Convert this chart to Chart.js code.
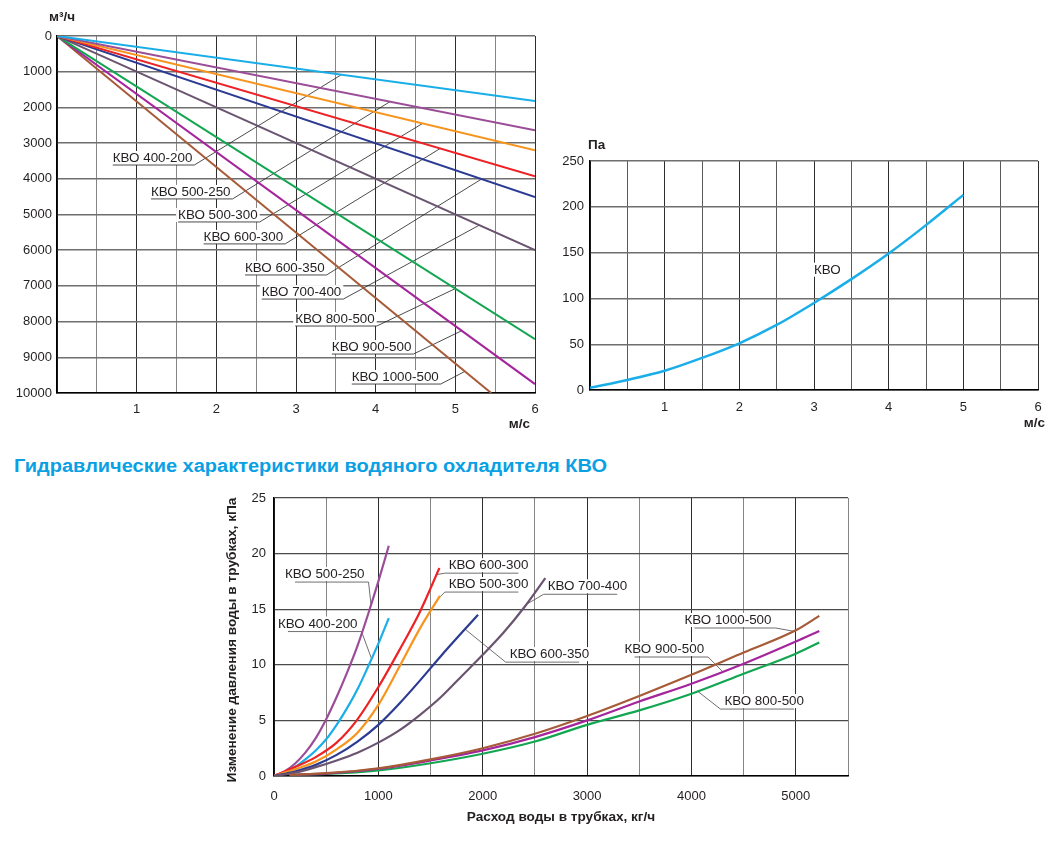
<!DOCTYPE html>
<html><head><meta charset="utf-8">
<script src="https://cdn.jsdelivr.net/npm/chart.js@4.4.1/dist/chart.umd.min.js"></script>
<style>
html,body{margin:0;padding:0;background:#fff;width:1062px;height:842px;overflow:hidden;}
.box{position:absolute;}
#title{position:absolute;left:14px;top:456px;line-height:20px;font:bold 18px "Liberation Sans",Arial,sans-serif;color:#0aa0e4;white-space:nowrap;transform:scaleX(1.11);transform-origin:0 50%;}
</style></head><body>
<div class="box" style="left:0;top:0;width:545px;height:440px"><canvas id="c1"></canvas></div>
<div class="box" style="left:540px;top:120px;width:522px;height:320px"><canvas id="c2"></canvas></div>
<div id="title">Гидравлические характеристики водяного охладителя КВО</div>
<div class="box" style="left:200px;top:480px;width:662px;height:362px"><canvas id="c3"></canvas></div>
<script>
// ===== DATA =====
const seriesNames = ['КВО 400-200','КВО 500-250','КВО 500-300','КВО 600-300','КВО 600-350','КВО 700-400','КВО 800-500','КВО 900-500','КВО 1000-500'];
const seriesColors = ['#1aaee8','#9b4e97','#f7941d','#ed2224','#2b3a92','#6a5470','#13a651','#a4259c','#a65b38'];

// Chart 1: air velocity (м/с) vs air flow (м³/ч)
const speedTickLabels = ['1','2','3','4','5','6'];
const flowSpeed = [0, 6];
const flowSpeed1000 = [0, 5.45];
const flow400_200 = [0, 1820];
const flow500_250 = [0, 2640];
const flow500_300 = [0, 3200];
const flow600_300 = [0, 3930];
const flow600_350 = [0, 4510];
const flow700_400 = [0, 6000];
const flow800_500 = [0, 8490];
const flow900_500 = [0, 9750];
const flow1000_500 = [0, 10000];

// Chart 2: air pressure drop (Па) vs velocity (м/с)
const paSpeed = [0, 0.5, 1, 1.5, 2, 2.5, 3, 3.5, 4, 4.5, 5];
const paDrop  = [2.5, 11, 21, 35, 51, 71, 95, 121, 149, 180, 213];

// Chart 3: water pressure drop (кПа) vs water flow (кг/ч)
const q400_200 = [0,100,200,300,400,500,600,700,800,900,1000,1100];
const dp400_200 = [0,0.3,0.8,1.5,2.3,3.3,4.6,6.1,7.8,9.8,11.9,14.2];
const q500_250 = [0,100,200,300,400,500,600,700,800,900,1000,1100];
const dp500_250 = [0,0.4,1.1,2.1,3.4,5.1,7.1,9.3,11.7,14.5,17.5,20.7];
const q500_300 = [0,200,400,600,800,1000,1200,1400,1590];
const dp500_300 = [0,0.6,1.3,2.4,3.9,6.4,9.8,13.3,16.2];
const q600_300 = [0,200,400,600,800,1000,1200,1400,1585];
const dp600_300 = [0,0.8,1.7,3.0,5.1,8.0,11.3,14.8,18.7];
const q600_350 = [0,200,400,600,800,1000,1200,1400,1600,1800,1955];
const dp600_350 = [0,0.4,1.0,1.9,3.1,4.6,6.5,8.6,10.8,12.9,14.5];
const q700_400 = [0,200,400,600,800,1000,1200,1400,1600,1800,2000,2200,2400,2600];
const dp700_400 = [0,0.3,0.8,1.4,2.1,3.0,4.1,5.5,7.1,9.0,10.9,12.9,15.2,17.8];
const q800_500 = [150,500,1000,1500,2000,2500,3000,3500,4000,4500,5000,5225];
const dp800_500 = [0.1,0.18,0.5,1.15,2.0,3.1,4.6,5.9,7.4,9.2,11.0,12.0];
const q900_500 = [150,500,1000,1500,2000,2500,3000,3500,4000,4500,5000,5225];
const dp900_500 = [0.1,0.22,0.65,1.4,2.3,3.5,5.0,6.7,8.3,10.1,12.1,13.05];
const q1000_500 = [150,500,1000,1500,2000,2500,3000,3500,4000,4500,5000,5225];
const dp1000_500 = [0.1,0.25,0.7,1.5,2.5,3.8,5.4,7.2,9.1,11.1,13.1,14.4];

// ===== HELPERS =====
const FONT = '"Liberation Sans", Arial, Helvetica, sans-serif';
Chart.defaults.font.family = FONT;
Chart.defaults.font.size = 13;
Chart.defaults.color = '#231f20';
Chart.defaults.animation = false;

function pairs(xs, ys){ return xs.map((x,i)=>({x:x, y:ys[i]})); }
function interp(data, x){
  for (let i=1;i<data.length;i++){
    if (x <= data[i].x){ const a=data[i-1], b=data[i]; const t=(x-a.x)/(b.x-a.x); return a.y+t*(b.y-a.y); }
  }
  return data[data.length-1].y;
}
function ds(name, xs, ys, width, smooth){
  const i = seriesNames.indexOf(name);
  return { label:name, data:pairs(xs,ys), borderColor: i>=0?seriesColors[i]:'#1aaee8', borderWidth:width,
    pointRadius:0, fill:false, cubicInterpolationMode: smooth?'monotone':'default', tension:0 };
}
function calloutPlugin(labels, cfg){
  return { id:'callouts', beforeDatasetsDraw(chart){
    const ctx=chart.ctx, xs=chart.scales.x, ys=chart.scales.y;
    ctx.save();
    ctx.font='13.4px '+FONT; ctx.textBaseline='alphabetic'; ctx.textAlign='left';
    labels.forEach(l=>{
      const tx=xs.getPixelForValue(l.x), ty=ys.getPixelForValue(l.y);
      const w=ctx.measureText(l.text).width;
      ctx.fillStyle='#fff'; ctx.fillRect(tx-2, ty-11, w+4, 14);
      ctx.fillStyle='#231f20'; ctx.fillText(l.text, tx, ty);
      if (!l.dir) return;
      const uy=ty+cfg.under;
      const x0=tx+(l.dir==='left'?-cfg.out:cfg.inset);
      const x1=tx+w+(l.dir==='right'?cfg.out:-cfg.inset);
      const d=chart.data.datasets.find(s=>s.label===l.series);
      const cy=interp(d.data, l.cx);
      const px=xs.getPixelForValue(l.cx), py=ys.getPixelForValue(cy);
      const sx=l.dir==='right'?x1:x0;
      ctx.strokeStyle=cfg.color; ctx.lineWidth=cfg.width;
      ctx.beginPath(); ctx.moveTo(x0,uy); ctx.lineTo(x1,uy); ctx.moveTo(sx,uy); ctx.lineTo(px,py); ctx.stroke();
    });
    ctx.restore();
  }};
}
function titlesPlugin(items){
  return { id:'titles', afterDraw(chart){
    const ctx=chart.ctx, a=chart.chartArea;
    ctx.save(); ctx.fillStyle='#231f20'; ctx.textBaseline='middle';
    items.forEach(t=>{
      ctx.font=t.font; ctx.textAlign=t.align;
      if (t.rot){
        ctx.save(); ctx.translate(a.left+t.dx,(a.top+a.bottom)/2+t.dy); ctx.rotate(-Math.PI/2);
        ctx.fillText(t.text,0,0); ctx.restore();
      } else {
        const bx = t.hRef==='right'?a.right:(t.hRef==='center'?(a.left+a.right)/2:a.left);
        const by = t.vRef==='bottom'?a.bottom:a.top;
        ctx.fillText(t.text, bx+t.dx, by+t.dy);
      }
    });
    ctx.restore();
  }};
}
const darkGrid='#2e2e2e', lightGrid='#858585', hGrid='#6f6f6f';

// ===== CHART 1 =====
const labels1 = [
  {text:'КВО 400-200', x:0.70, y:3530, dir:'right', series:'КВО 400-200', cx:3.57},
  {text:'КВО 500-250', x:1.18, y:4480, dir:'right', series:'КВО 500-250', cx:4.18},
  {text:'КВО 500-300', x:1.52, y:5125, dir:'right', series:'КВО 500-300', cx:4.59},
  {text:'КВО 600-300', x:1.84, y:5740, dir:'right', series:'КВО 600-300', cx:4.81},
  {text:'КВО 600-350', x:2.36, y:6610, dir:'right', series:'КВО 600-350', cx:5.33},
  {text:'КВО 700-400', x:2.57, y:7285, dir:'right', series:'КВО 700-400', cx:5.3},
  {text:'КВО 800-500', x:2.99, y:8040, dir:'right', series:'КВО 800-500', cx:5.0},
  {text:'КВО 900-500', x:3.45, y:8825, dir:'right', series:'КВО 900-500', cx:5.08},
  {text:'КВО 1000-500', x:3.70, y:9665, dir:'right', series:'КВО 1000-500', cx:5.12}
];
new Chart(document.getElementById('c1'), {
  type:'line',
  data:{ datasets:[
    ds('КВО 400-200', flowSpeed, flow400_200, 2),
    ds('КВО 500-250', flowSpeed, flow500_250, 2),
    ds('КВО 500-300', flowSpeed, flow500_300, 2),
    ds('КВО 600-300', flowSpeed, flow600_300, 2),
    ds('КВО 600-350', flowSpeed, flow600_350, 2),
    ds('КВО 700-400', flowSpeed, flow700_400, 2),
    ds('КВО 800-500', flowSpeed, flow800_500, 2),
    ds('КВО 900-500', flowSpeed, flow900_500, 2),
    ds('КВО 1000-500', flowSpeed1000, flow1000_500, 2)
  ]},
  options:{
    responsive:true, maintainAspectRatio:false,
    layout:{padding:{top:36,right:10,left:0,bottom:0}},
    plugins:{legend:{display:false}, tooltip:{enabled:false}},
    scales:{
      x:{type:'linear', min:0, max:6,
        ticks:{stepSize:0.5, padding:9, autoSkip:false, maxRotation:0,
          callback:v=>(v>0 && Number.isInteger(v))?speedTickLabels[v-1]:''},
        grid:{drawTicks:false, lineWidth:1, color:c=>Number.isInteger(c.tick.value)?darkGrid:lightGrid},
        border:{color:'#000', width:1.5},
        afterFit:s=>{s.height=47; s.paddingRight=0; s.paddingLeft=0;}},
      y:{type:'linear', reverse:true, min:0, max:10000,
        ticks:{stepSize:1000, padding:5, callback:v=>String(v)},
        grid:{drawTicks:false, lineWidth:1.5, color:hGrid},
        border:{color:'#000', width:1.5},
        afterFit:s=>{s.width=57;}}
    }
  },
  plugins:[calloutPlugin(labels1,{under:3,inset:0,out:2,color:'#1e1e1e',width:0.8}),
    titlesPlugin([
      {text:'м³/ч', font:'bold 13.5px '+FONT, align:'left', dx:-8, dy:-19},
      {text:'м/с', font:'bold 13.5px '+FONT, align:'right', hRef:'right', vRef:'bottom', dx:-5, dy:31}
    ])]
});

// ===== CHART 2 =====
new Chart(document.getElementById('c2'), {
  type:'line',
  data:{ datasets:[ ds('КВО', paSpeed, paDrop, 2.5, true) ]},
  options:{
    responsive:true, maintainAspectRatio:false,
    layout:{padding:{top:41,right:24,left:0,bottom:0}},
    plugins:{legend:{display:false}, tooltip:{enabled:false}},
    scales:{
      x:{type:'linear', min:0, max:6,
        ticks:{stepSize:0.5, padding:10, autoSkip:false, maxRotation:0,
          callback:v=>(v>0 && Number.isInteger(v))?speedTickLabels[v-1]:''},
        grid:{drawTicks:false, lineWidth:1, color:c=>Number.isInteger(c.tick.value)?darkGrid:'#5a5a5a'},
        border:{color:'#000', width:1.5},
        afterFit:s=>{s.height=50;}},
      y:{type:'linear', min:0, max:250,
        ticks:{stepSize:50, padding:6, callback:v=>String(v)},
        grid:{drawTicks:false, lineWidth:1.4, color:hGrid},
        border:{color:'#000', width:1.5},
        afterFit:s=>{s.width=50;}}
    }
  },
  plugins:[calloutPlugin([{text:'КВО', x:3.0, y:127}],{under:3,inset:0,out:2,color:'#222',width:0.8}),
    titlesPlugin([
      {text:'Па', font:'bold 13.5px '+FONT, align:'left', dx:-2, dy:-16},
      {text:'м/с', font:'bold 13.5px '+FONT, align:'right', hRef:'right', vRef:'bottom', dx:7, dy:33}
    ])]
});

// ===== CHART 3 =====
const labels3 = [
  {text:'КВО 500-250', x:105, y:17.8, dir:'right', series:'КВО 500-250', cx:930},
  {text:'КВО 400-200', x:38, y:13.35, dir:'right', series:'КВО 400-200', cx:935},
  {text:'КВО 600-300', x:1675, y:18.6, dir:'left', series:'КВО 600-300', cx:1557},
  {text:'КВО 500-300', x:1675, y:16.9, dir:'left', series:'КВО 500-300', cx:1572},
  {text:'КВО 700-400', x:2622, y:16.7, dir:'left', series:'КВО 700-400', cx:2418},
  {text:'КВО 600-350', x:2258, y:10.6, dir:'left', series:'КВО 600-350', cx:1830},
  {text:'КВО 1000-500', x:3933, y:13.67, dir:'right', series:'КВО 1000-500', cx:4979},
  {text:'КВО 900-500', x:3359, y:11.06, dir:'right', series:'КВО 900-500', cx:4300},
  {text:'КВО 800-500', x:4316, y:6.38, dir:'left', series:'КВО 800-500', cx:4060}
];
new Chart(document.getElementById('c3'), {
  type:'line',
  data:{ datasets:[
    ds('КВО 1000-500', q1000_500, dp1000_500, 2.2, true),
    ds('КВО 900-500', q900_500, dp900_500, 2.2, true),
    ds('КВО 800-500', q800_500, dp800_500, 2.2, true),
    ds('КВО 700-400', q700_400, dp700_400, 2.2, true),
    ds('КВО 600-350', q600_350, dp600_350, 2.2, true),
    ds('КВО 500-300', q500_300, dp500_300, 2.2, true),
    ds('КВО 600-300', q600_300, dp600_300, 2.2, true),
    ds('КВО 400-200', q400_200, dp400_200, 2.2, true),
    ds('КВО 500-250', q500_250, dp500_250, 2.2, true)
  ]},
  options:{
    responsive:true, maintainAspectRatio:false,
    layout:{padding:{top:18,right:14,left:0,bottom:0}},
    plugins:{legend:{display:false}, tooltip:{enabled:false}},
    scales:{
      x:{type:'linear', min:0, max:5500,
        ticks:{stepSize:500, padding:13, autoSkip:false, maxRotation:0,
          callback:v=>(v%1000===0 && v<=5000)?String(v):''},
        grid:{drawTicks:false, lineWidth:1, color:c=>(c.tick.value%1000===0)?darkGrid:lightGrid},
        border:{color:'#000', width:1.5},
        afterFit:s=>{s.height=66;}},
      y:{type:'linear', min:0, max:25,
        ticks:{stepSize:5, padding:8, callback:v=>String(v)},
        grid:{drawTicks:false, lineWidth:1.3, color:'#4a4a4a'},
        border:{color:'#000', width:1.5},
        afterFit:s=>{s.width=74;}}
    }
  },
  plugins:[calloutPlugin(labels3,{under:4,inset:10,out:4,color:'#4a4a4a',width:0.8}),
    titlesPlugin([
      {text:'Изменение давления воды в трубках, кПа', font:'bold 13.7px '+FONT, align:'center', rot:true, dx:-42, dy:3},
      {text:'Расход воды в трубках, кг/ч', font:'bold 13.6px '+FONT, align:'center', hRef:'center', vRef:'bottom', dx:0, dy:41}
    ])]
});
</script>
</body></html>
